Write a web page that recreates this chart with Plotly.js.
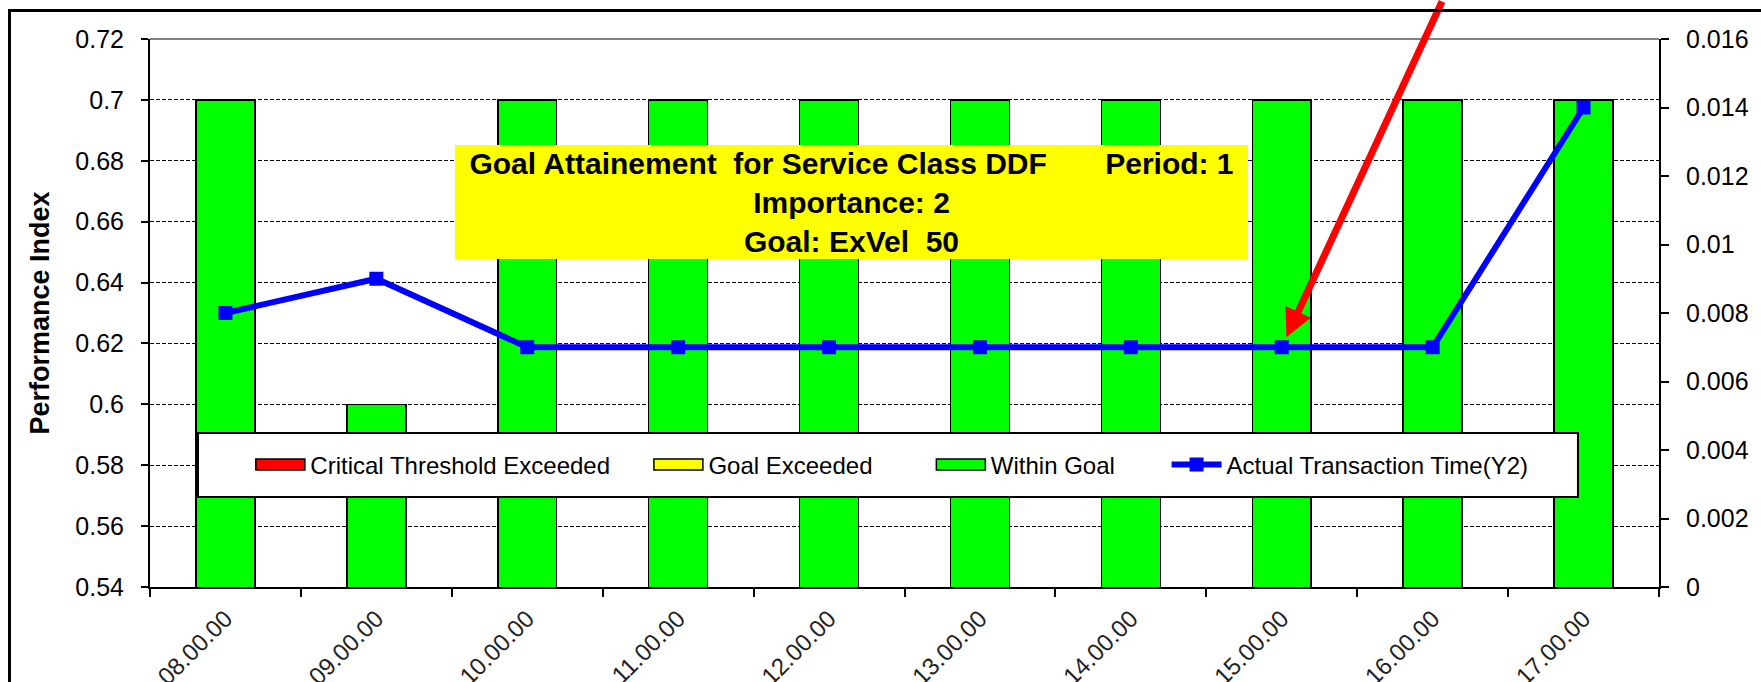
<!DOCTYPE html>
<html>
<head>
<meta charset="utf-8">
<script src="https://cdn.plot.ly/plotly-3.0.1.min.js"></script>
<style>
  html, body { margin: 0; padding: 0; background: #fff; overflow: hidden; }
  #wrap { position: relative; width: 1761px; height: 682px; }
  #chart { position: absolute; left: 0; top: 0; width: 1761px; height: 682px; }
  #frame { position: absolute; left: 8px; top: 9px; width: 1800px; height: 800px;
           border-left: 3px solid #000; border-top: 3px solid #000; pointer-events: none; }
</style>
</head>
<body>
<div id="wrap">
  <div id="chart"></div>
  <div id="frame"></div>
</div>
<script>
// ---- data ----
const categories = ['08.00.00', '09.00.00', '10.00.00', '11.00.00', '12.00.00',
                    '13.00.00', '14.00.00', '15.00.00', '16.00.00', '17.00.00'];
const criticalExceeded = [0, 0, 0, 0, 0, 0, 0, 0, 0, 0];
const goalExceeded     = [0, 0, 0, 0, 0, 0, 0, 0, 0, 0];
const withinGoal       = [0.7, 0.6, 0.7, 0.7, 0.7, 0.7, 0.7, 0.7, 0.7, 0.7];
const actualTime       = [0.008, 0.009, 0.007, 0.007, 0.007, 0.007, 0.007, 0.007, 0.007, 0.014];
const seriesNames = ['Critical Threshold Exceeded', 'Goal Exceeded', 'Within Goal', 'Actual Transaction Time(Y2)'];
const titleLines = ['Goal Attainement  for Service Class DDF       Period: 1', 'Importance: 2', 'Goal: ExVel  50'];
const yTitle = 'Performance Index';
const arrowTarget = { category: '15.00.00', value: 0.007 };

const FONT = 'Liberation Sans, Arial, sans-serif';
const pad = n => '\u00A0'.repeat(n);
const keepSpaces = s => s.replace(/ {2,}/g, m => '\u00A0'.repeat(m.length));

const barStyle = color => ({ color: color, line: { color: '#000', width: 1.5 } });

const traces = [
  { type: 'bar', name: seriesNames[0] + pad(5), x: categories, y: criticalExceeded, marker: barStyle('#FF0000') },
  { type: 'bar', name: seriesNames[1] + pad(8), x: categories, y: goalExceeded, marker: barStyle('#FFFF00') },
  { type: 'bar', name: seriesNames[2] + pad(7), x: categories, y: withinGoal, marker: barStyle('#00FF00') },
  { type: 'scatter', mode: 'lines+markers', name: seriesNames[3], x: categories, y: actualTime, yaxis: 'y2',
    line: { color: '#0000FF', width: 6 }, marker: { symbol: 'square', size: 14, color: '#0000FF' } }
];

const layout = {
  width: 1761, height: 682,
  margin: { l: 150, r: 102, t: 39, b: 95 },
  paper_bgcolor: '#fff', plot_bgcolor: '#fff',
  font: { family: FONT, color: '#000' },
  barmode: 'stack', bargap: 0.61,
  showlegend: true,
  legend: {
    orientation: 'h', x: 0.0665, y: 0.2226, xanchor: 'left', yanchor: 'middle',
    bgcolor: 'rgba(0,0,0,0)', borderwidth: 0, itemwidth: 50, traceorder: 'normal',
    font: { size: 24, color: '#000', family: FONT }
  },
  xaxis: {
    type: 'category', range: [-0.5, categories.length - 0.5], autorange: false,
    tickson: 'boundaries', ticks: 'outside', ticklen: 8, tickwidth: 2, tickcolor: '#000',
    showline: true, linecolor: '#000', linewidth: 2, showgrid: false, tickangle: -45,
    tickfont: { size: 24, color: '#222', family: FONT }, ticklabelstandoff: 6
  },
  yaxis: {
    range: [0.54, 0.72], tick0: 0.54, dtick: 0.02, showline: true, linecolor: '#000', linewidth: 2,
    ticks: 'outside', ticklen: 7, tickwidth: 2, tickcolor: '#000',
    showgrid: true, gridcolor: '#000', gridwidth: 1, griddash: '4px,2px', zeroline: false,
    tickfont: { size: 25, color: '#000', family: FONT }, ticklabelstandoff: 12,
    title: { text: yTitle, font: { size: 27, weight: 'bold', family: FONT }, standoff: 18 }
  },
  yaxis2: {
    overlaying: 'y', side: 'right', range: [0, 0.016], tick0: 0, dtick: 0.002,
    showline: true, linecolor: '#000', linewidth: 2, ticks: 'outside', ticklen: 8, tickwidth: 2, tickcolor: '#000',
    showgrid: false, zeroline: false,
    tickfont: { size: 25, color: '#000', family: FONT }, ticklabelstandoff: 12
  },
  shapes: [
    { type: 'line', xref: 'paper', yref: 'paper', x0: 0, x1: 1, y0: 1, y1: 1,
      line: { color: '#808080', width: 2 }, layer: 'above' },
    { type: 'rect', xref: 'paper', yref: 'paper', x0: 0.0318, x1: 0.9463, y0: 0.1642, y1: 0.281,
      fillcolor: '#fff', line: { color: '#000', width: 2 }, layer: 'above' }
  ],
  annotations: [
    { xref: 'paper', yref: 'paper', x: 0.465, y: 0.7026, xanchor: 'center', yanchor: 'middle',
      text: titleLines.map(keepSpaces).join('<br>'), showarrow: false, align: 'center',
      width: 793, height: 114, bgcolor: '#FFFF00', borderpad: 0, borderwidth: 0,
      font: { size: 30, weight: 'bold', color: '#000', family: FONT } },
    { xref: 'x', yref: 'y2', x: arrowTarget.category, y: arrowTarget.value, text: '',
      showarrow: true, ax: 161, ay: -360, arrowcolor: '#FF0000', arrowwidth: 7,
      arrowhead: 2, arrowsize: 0.8, standoff: 11 }
  ]
};

Plotly.newPlot('chart', traces, layout, { displayModeBar: false, staticPlot: true }).then(gd => {
  // Excel-style wide rectangular swatches for the bar series in the legend
  gd.querySelectorAll('.legend .traces').forEach((g, i) => {
    if (i < 3) {
      g.querySelectorAll('.legendpoints path').forEach(p => {
        p.setAttribute('d', 'M24.5,5.5H-24.5V-5.5H24.5Z');
      });
    }
  });
});
</script>
</body>
</html>
